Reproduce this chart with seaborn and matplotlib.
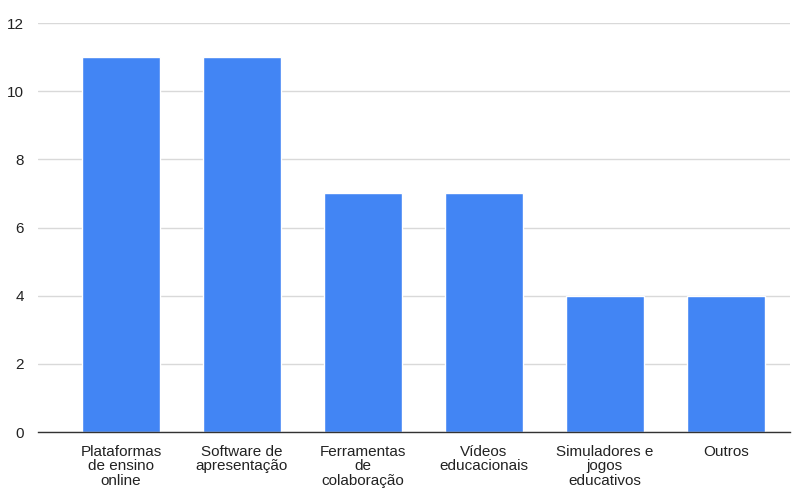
import matplotlib
matplotlib.use("Agg")
import matplotlib.pyplot as plt
import seaborn as sns
import pandas as pd

categories = ["Plataformas\nde ensino\nonline", "Software de\napresentação", "Ferramentas\nde\ncolaboração",
              "Vídeos\neducacionais", "Simuladores e\njogos\neducativos", "Outros"]
values = [11, 11, 7, 7, 4, 4]
yticks = [0, 2, 4, 6, 8, 10, 12]

sns.set_theme(style="white")
plt.rcParams['font.family'] = ['Liberation Sans', 'DejaVu Sans']

df = pd.DataFrame({"cat": categories, "val": values})
fig = plt.figure(figsize=(7.94, 4.90), dpi=100)
ax = fig.add_axes([38/794, 58/490, (790-38)/794, (432-23)/490])
sns.barplot(data=df, x="cat", y="val", color="#4285F4", saturation=1, width=0.645, ax=ax)
ax.set_xlim(-0.686, 5.53)
ax.set_ylim(0, 12)
ax.set_yticks(yticks)
ax.set_yticklabels([str(t) for t in yticks], fontsize=11, color="#222222")
for lbl in ax.get_xticklabels():
    lbl.set_linespacing(1.05)
ax.tick_params(axis="x", labelsize=11, colors="#222222", length=0, pad=9)
ax.tick_params(axis="y", length=0, pad=10)
ax.grid(axis="y", color="#d9d9d9", linewidth=1)
ax.set_axisbelow(True)
for s in ["top", "right", "left"]:
    ax.spines[s].set_visible(False)
ax.spines["bottom"].set_color("#333333")
ax.spines["bottom"].set_linewidth(1)
ax.set_xlabel("")
ax.set_ylabel("")
fig.savefig("out.png", dpi=100)
